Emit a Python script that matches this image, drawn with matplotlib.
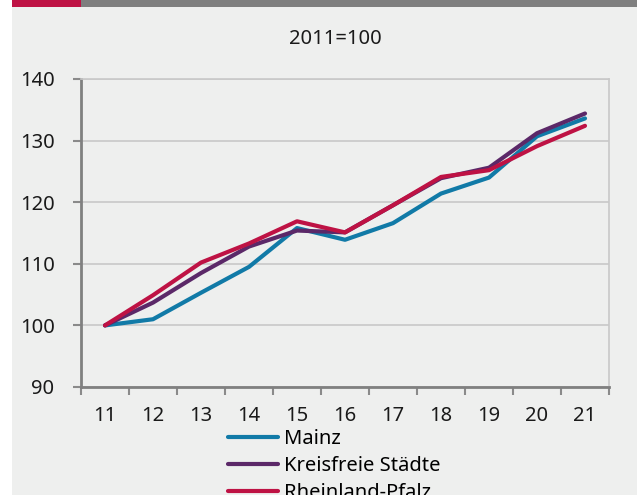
import matplotlib.pyplot as plt
from matplotlib.patches import Rectangle
from matplotlib.ticker import FixedLocator

years = ["11", "12", "13", "14", "15", "16", "17", "18", "19", "20", "21"]
mainz = [100, 101.0, 105.3, 109.5, 115.8, 113.9, 116.6, 121.4, 124.0, 130.7, 133.6]
kreisfreie = [100, 103.7, 108.5, 112.8, 115.4, 115.1, 119.5, 123.9, 125.6, 131.2, 134.4]
rlp = [100, 104.9, 110.2, 113.3, 116.9, 115.1, 119.5, 124.1, 125.2, 129.1, 132.4]

labels = ["Mainz", "Kreisfreie Städte", "Rheinland-Pfalz"]
colors = ["#117AA7", "#5B2868", "#BE1244"]

W, H = 642, 495
plt.rcParams["font.family"] = ["Noto Sans", "DejaVu Sans"]
plt.rcParams["font.size"] = 14.5

fig = plt.figure(figsize=(W / 100, H / 100), dpi=100, facecolor="white")

# page background and top bar (behind the axes)
fig.patches.append(Rectangle((12 / W, 0), 625 / W, (H - 7) / H, transform=fig.transFigure,
                             facecolor="#EEEFEE", edgecolor="none", zorder=-2))
fig.patches.append(Rectangle((12 / W, (H - 7) / H), 69 / W, 7 / H, transform=fig.transFigure,
                             facecolor="#BE1244", edgecolor="none", zorder=-2))
fig.patches.append(Rectangle((81 / W, (H - 7) / H), 556 / W, 7 / H, transform=fig.transFigure,
                             facecolor="#7F7F7F", edgecolor="none", zorder=-2))

ax = fig.add_axes([81 / W, (H - 387) / H, 528 / W, 308 / H])
ax.set_facecolor("none")

x = list(range(len(years)))
for vals, lab, col in zip([mainz, kreisfreie, rlp], labels, colors):
    ax.plot(x, vals, color=col, lw=3.0, label=lab, solid_capstyle="round", zorder=3)

ax.set_xlim(-0.5, len(years) - 0.5)
ax.set_ylim(90, 140)
ax.set_yticks([90, 100, 110, 120, 130, 140])
ax.set_xticks(x)
ax.set_xticklabels(years)
ax.xaxis.set_minor_locator(FixedLocator([i - 0.5 for i in range(len(years) + 1)]))
ax.tick_params(axis="x", which="major", length=0, pad=14, colors="#1a1a1a")
ax.tick_params(axis="x", which="minor", length=6, width=1.5, color="#8a8a8a", direction="out")
ax.tick_params(axis="y", length=6, width=1.5, pad=13, labelcolor="#1a1a1a", color="#8a8a8a")
ax.grid(axis="y", color="#C8C8C8", lw=1.2, zorder=1)

for side in ["left", "bottom"]:
    ax.spines[side].set_color("#808080")
    ax.spines[side].set_linewidth(2)
for side in ["top", "right"]:
    ax.spines[side].set_color("#C8C8C8")
    ax.spines[side].set_linewidth(1.2)

fig.text(335 / W, (H - 39) / H, "2011=100", ha="center", va="center", color="#1a1a1a")

fig.legend(loc="upper left", bbox_to_anchor=(228 / W, (H - 429) / H), frameon=False,
           borderpad=0, borderaxespad=0, handlelength=2.5, handletextpad=0.3,
           labelspacing=0.35)

fig.savefig("out.png", dpi=100, facecolor="white")
